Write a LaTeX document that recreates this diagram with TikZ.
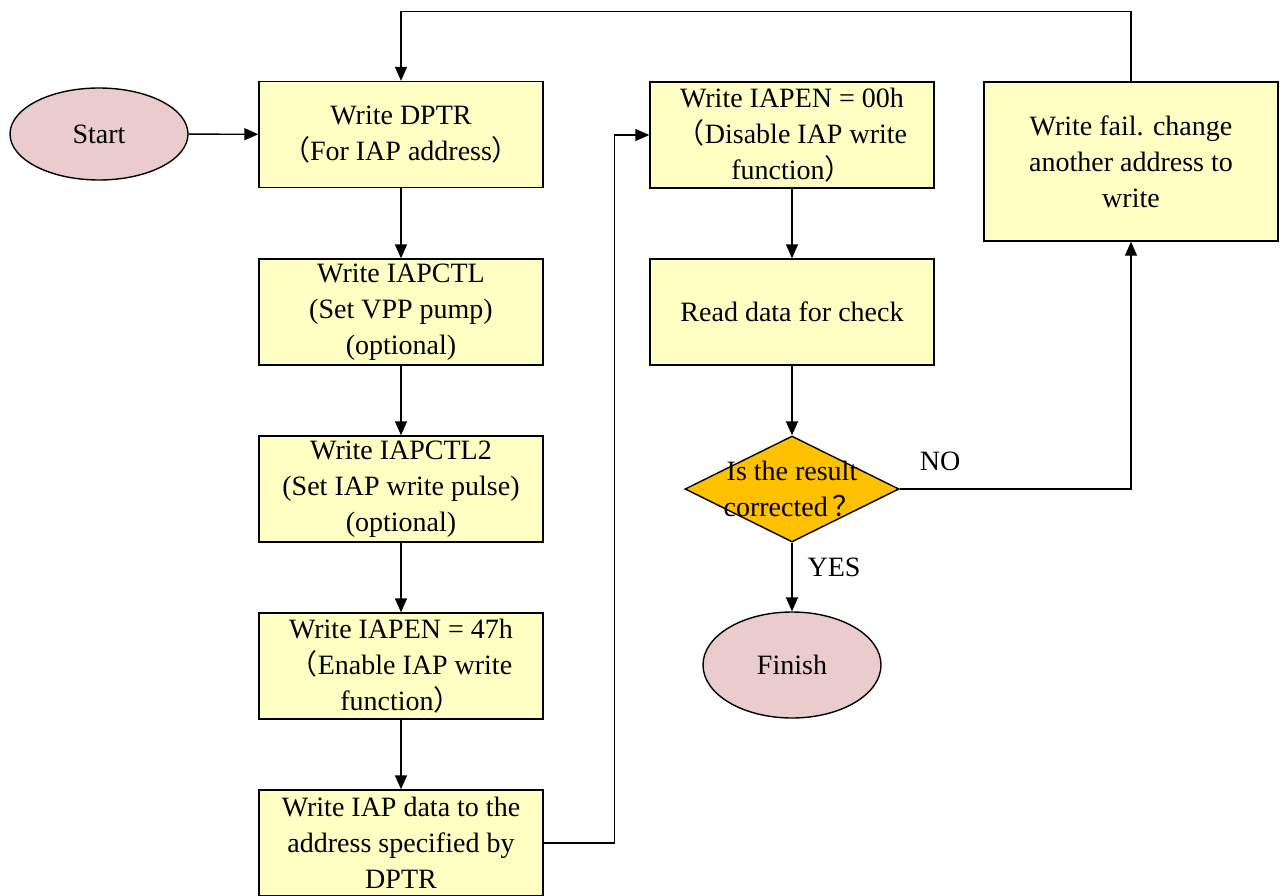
\documentclass[tikz,border=0pt]{standalone}
\usepackage{fontspec}
\setmainfont{Liberation Serif}
\newfontfamily\cjk{Noto Sans CJK SC}
\usetikzlibrary{shapes.geometric,arrows.meta}
\definecolor{boxfill}{HTML}{FFFFC4}
\definecolor{termfill}{HTML}{EBCCCC}
\definecolor{decfill}{HTML}{FFC000}
\newcommand{\lp}{{\cjk （}}
\newcommand{\rp}{{\cjk ）}}
\newcommand{\qm}{{\cjk ？}}
\begin{document}
\begin{tikzpicture}[x=1pt,y=-1pt,
  every node/.style={font=\fontsize{28}{36}\selectfont, inner sep=0pt},
  box/.style={draw, line width=1.4pt, fill=boxfill, minimum width=284pt, minimum height=106pt, align=center},
  term/.style={draw, line width=1.4pt, ellipse, fill=termfill, minimum width=178pt, minimum height=92pt},
  dec/.style={draw, line width=1.4pt, diamond, fill=decfill, minimum width=214pt, minimum height=106pt},
  arr/.style={line width=1.4pt, -{Triangle[length=14pt,width=12pt]}}]
\useasboundingbox (0,0) rectangle (1282,896);
\node[term] (start) at (99,134) {Start};
\node[box] (b1) at (401,134.5) {Write DPTR\\\lp For IAP address\rp};
\node[box] (b2) at (401,312) {Write IAPCTL\\(Set VPP pump)\\(optional)};
\node[box] (b3) at (401,489) {Write IAPCTL2\\(Set IAP write pulse)\\(optional)};
\node[box] (b4) at (401,666) {Write IAPEN = 47h\\\lp Enable IAP write\\function\rp};
\node[box] (b5) at (401,843) {Write IAP data to the\\address specified by\\DPTR};
\node[box] (b6) at (792,135) {Write IAPEN = 00h\\\lp Disable IAP write\\function\rp};
\node[box] (b7) at (792,312) {Read data for check};
\node[dec] (dec) at (792,489) {};
\node[align=center] (dectext) at (792,489) {Is the result\\corrected\,\qm};
\node[term, minimum height=106pt] (fin) at (792,665) {Finish};
\node[box, minimum width=294pt, minimum height=159pt] (fail) at (1131,161.5) {Write fail. change\\another address to\\write};
\node (no) at (940,461) {NO};
\node (yes) at (834,567) {YES};
\draw[arr] (start) -- (b1);
\draw[arr] (b1) -- (b2);
\draw[arr] (b2) -- (b3);
\draw[arr] (b3) -- (b4);
\draw[arr] (b4) -- (b5);
\draw[arr] (b5.east) -- ++(71,0) |- (b6.west);
\draw[arr] (b6) -- (b7);
\draw[arr] (b7) -- (dec.north);
\draw[arr] (dec.south) -- (fin);
\draw[arr] (dec.east) -| (fail.south);
\draw[arr] (fail.north) -- ++(0,-70) -| (b1.north);
\end{tikzpicture}
\end{document}
